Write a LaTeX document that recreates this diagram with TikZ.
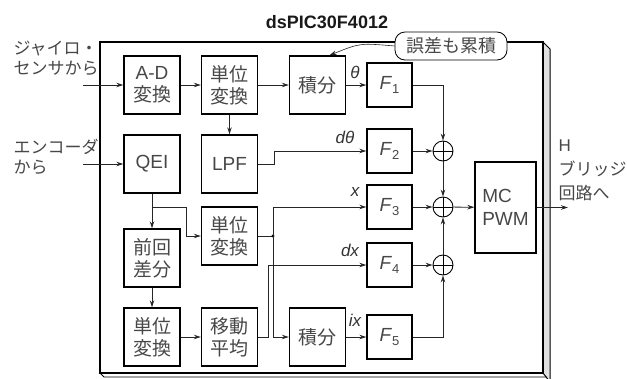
\documentclass[tikz,border=0pt]{standalone}
\usepackage{fontspec}
\setmainfont{Liberation Sans}
\newfontfamily\jp{Noto Sans CJK JP}
\usetikzlibrary{arrows.meta}
\begin{document}
\begin{tikzpicture}[x=1pt,y=-1pt,
  blk/.style={draw, line width=1.4pt, minimum width=56pt, minimum height=58pt, inner sep=0pt, align=center, font=\fontsize{19}{22}\selectfont, text=black!72},
  fblk/.style={draw, line width=1.4pt, minimum width=45pt, minimum height=44pt, inner sep=0pt, font=\fontsize{19}{19}\selectfont, text=black!72},
  sumc/.style={draw, circle, line width=0.9pt, minimum size=20pt, inner sep=0pt, path picture={\draw[line width=0.7pt] (path picture bounding box.north) -- (path picture bounding box.south) (path picture bounding box.west) -- (path picture bounding box.east);}},
  wire/.style={line width=0.8pt, draw=black!85},
  arr/.style={wire, -{Stealth[length=7pt,width=4.5pt]}},
  lab/.style={font=\fontsize{17}{17}\selectfont\itshape, text=black!80},
  side/.style={font=\fontsize{17}{21}\selectfont, text=black!72, align=left},
]
\useasboundingbox (0,0) rectangle (627,378);
% frame
\filldraw[fill=black!12, line width=1pt] (543,42) -- (550,49) -- (550,382) -- (543,373) -- cycle;
\draw[line width=0.8pt] (100,373) -- (104,377) -- (547,377);
\draw[line width=1.4pt] (100,42) rectangle (543,373);
% title
\node[font=\fontsize{18}{18}\selectfont\bfseries, text=black!90] (title) at (327,22) {dsPIC30F4012};
% blocks
\node[blk] (ad) at (152,85) {A-D\\{\jp 変換}};
\node[blk] (u1) at (229.5,85) {{\jp 単位}\\{\jp 変換}};
\node[blk] (i1) at (317.5,85) {\jp 積分};
\node[blk] (qei) at (152,164) {QEI};
\node[blk] (lpf) at (229.5,164) {LPF};
\node[blk] (u2) at (229.5,236) {{\jp 単位}\\{\jp 変換}};
\node[blk] (zk) at (152,258) {{\jp 前回}\\{\jp 差分}};
\node[blk] (u3) at (152,337) {{\jp 単位}\\{\jp 変換}};
\node[blk] (ido) at (229.5,337) {{\jp 移動}\\{\jp 平均}};
\node[blk] (i2) at (317.5,337) {\jp 積分};
\node[fblk] (f1) at (389.5,85) {\textit{F}\raisebox{-4pt}{\fontsize{13}{13}\selectfont 1}};
\node[fblk] (f2) at (389.5,151) {\textit{F}\raisebox{-4pt}{\fontsize{13}{13}\selectfont 2}};
\node[fblk] (f3) at (389.5,207) {\textit{F}\raisebox{-4pt}{\fontsize{13}{13}\selectfont 3}};
\node[fblk] (f4) at (389.5,265) {\textit{F}\raisebox{-4pt}{\fontsize{13}{13}\selectfont 4}};
\node[fblk] (f5) at (389.5,337) {\textit{F}\raisebox{-4pt}{\fontsize{13}{13}\selectfont 5}};
\node[sumc] (s1) at (443,151) {};
\node[sumc] (s3) at (443,207) {};
\node[sumc] (s2) at (443,265) {};
\node[draw, line width=1.4pt, minimum width=61pt, minimum height=91pt, inner sep=0pt, align=left, font=\fontsize{19}{23}\selectfont, text=black!72] (mc) at (505.5,207.5) {MC\\PWM};
% note
\node[draw, line width=0.8pt, fill=white, rounded corners=10pt, minimum width=112pt, minimum height=28pt, inner sep=0pt, font=\jp\fontsize{18}{18}\selectfont, text=black!72] (note) at (451,46) {誤差も累積};
\draw[arr, line width=0.6pt] (note.west) .. controls (360,43) .. ([xshift=12pt]i1.north);
% side labels
\node[side, anchor=west, font=\jp\fontsize{17}{20}\selectfont] (lg) at (10,58) {ジャイロ・\\センサから};
\node[side, anchor=west, font=\jp\fontsize{17}{20}\selectfont] (le) at (10,157) {エンコーダ\\から};
\node[side, anchor=north west, font=\fontsize{17}{24}\selectfont] (rh) at (555,136) {H\\{\jp ブリッジ}\\{\jp 回路へ}};
% signal labels
\node[lab] (lt) at (355,72) {θ};
\node[lab] (ldt) at (345,137) {dθ};
\node[lab] (lx) at (355,192) {x};
\node[lab] (ldx) at (350,250) {dx};
\node[lab] (lix) at (355,320) {ix};
% wires
\coordinate (in1) at (83,85);
\coordinate (in2) at (83,164);
\coordinate (br) at (152,207);
\coordinate (j) at (273,236);
\coordinate (out) at (568,207.5);
\draw[arr] (in1) -- (ad);
\draw[arr] (in2) -- (qei);
\draw[arr] (ad) -- (u1);
\draw[arr] (u1) -- (i1);
\draw[arr] (i1) -- (f1);
\draw[arr] (u1) -- (lpf);
\draw[arr] (lpf.east) -- ++(16,0) |- (f2.west);
\draw[arr] (qei) -- (zk);
\draw[arr] (br) -- (186,207) |- (u2.west);
\draw[arr] (zk) -- (u3);
\draw[arr] (u3) -- (ido);
\draw[wire] (u2.east) -- (j);
\fill (j) circle (1.6);
\draw[arr] (j) |- (f3.west);
\draw[arr] (j) |- (i2.west);
\draw[arr] (ido.east) -- ++(10,0) |- (f4.west);
\draw[arr] (i2) -- (f5);
\draw[arr] (f1.east) -| (s1.north);
\draw[arr] (f2) -- (s1);
\draw[arr] (s1) -- (s3);
\draw[arr] (f3) -- (s3);
\draw[arr] (s2) -- (s3);
\draw[arr] (f4) -- (s2);
\draw[arr] (f5.east) -| (s2.south);
\draw[arr] (s3) -- (mc);
\draw[arr] (mc.east |- out) -- (out);
\end{tikzpicture}
\end{document}
